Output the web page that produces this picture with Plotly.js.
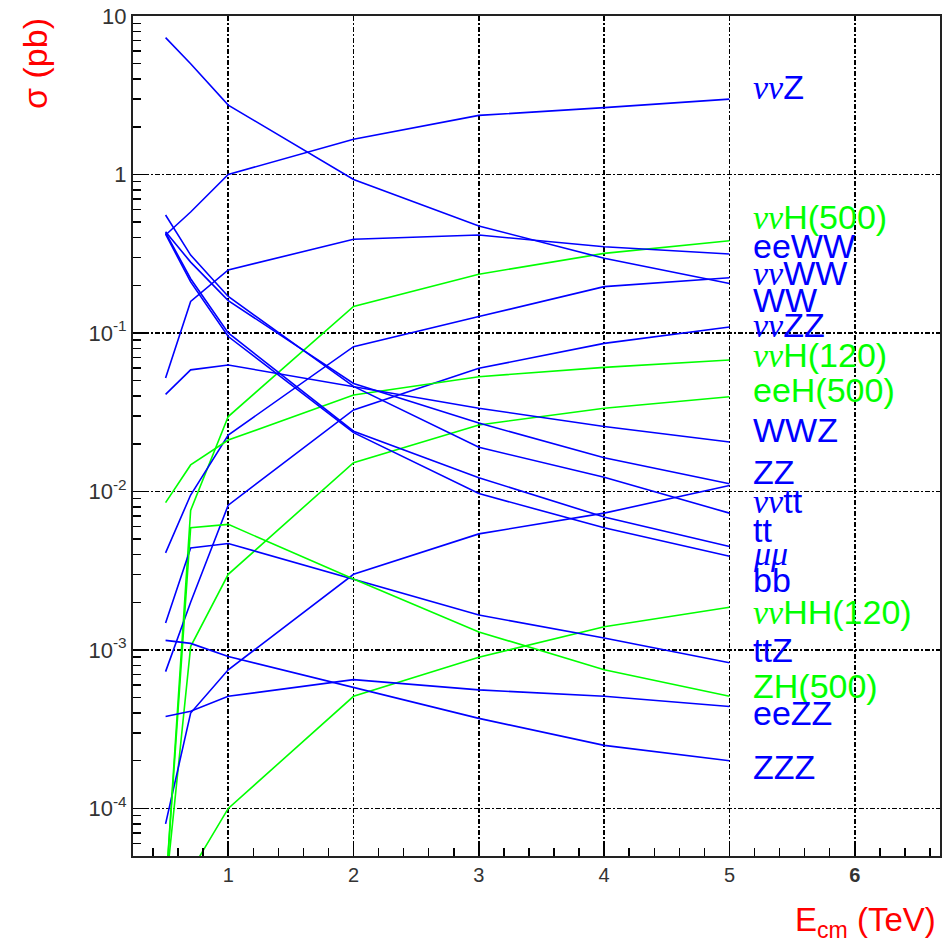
<!DOCTYPE html>
<html>
<head>
<meta charset="utf-8">
<script src="https://cdn.plot.ly/plotly-3.0.1.min.js"></script>
<style>html,body{margin:0;padding:0;background:#fff;}#chart{width:944px;height:950px;}</style>
</head>
<body>
<div id="chart"></div>
<script>
// centre-of-mass energies (TeV)
const energies = [0.5, 0.7, 1, 2, 3, 4, 5];

// cross sections (pb)
// blue processes
const sigNuNuZ   = [0.415, 0.58, 1.0, 1.67, 2.36, 2.64, 2.99];
const sigWW      = [7.3, 5.0, 2.74, 0.93, 0.473, 0.296, 0.205];
const sigEEWW    = [0.052, 0.158, 0.25, 0.39, 0.415, 0.35, 0.315];
const sigNuNuWW  = [0.0041, 0.0095, 0.0227, 0.082, 0.127, 0.196, 0.223];
const sigNuNuZZ  = [0.00073, 0.002, 0.0082, 0.0327, 0.0599, 0.086, 0.109];
const sigWWZ     = [0.041, 0.0585, 0.0628, 0.0458, 0.0335, 0.0257, 0.0205];
const sigZZ      = [0.435, 0.28, 0.16, 0.048, 0.027, 0.0163, 0.0112];
const sigNuNuTT  = [0.00008, 0.0004, 0.00075, 0.003, 0.0054, 0.0073, 0.0109];
const sigTT      = [0.555, 0.31, 0.17, 0.046, 0.019, 0.0123, 0.0073];
const sigMuMu    = [0.43, 0.22, 0.1, 0.024, 0.0122, 0.0069, 0.0045];
const sigBB      = [0.42, 0.21, 0.095, 0.0235, 0.0097, 0.0059, 0.0039];
const sigTTZ     = [0.00148, 0.0044, 0.0047, 0.0028, 0.00166, 0.00119, 0.00083];
const sigEEZZ    = [0.00038, 0.00041, 0.00051, 0.00065, 0.00056, 0.00051, 0.00044];
const sigZZZ     = [0.00115, 0.0011, 0.00091, 0.00058, 0.00037, 0.00025, 0.0002];
// green (Higgs) processes
const sigNuNuH500   = [0.00003, 0.0076, 0.0297, 0.147, 0.235, 0.318, 0.382];
const sigNuNuH120   = [0.0085, 0.0147, 0.0211, 0.0406, 0.053, 0.0607, 0.0676];
const sigEEH500     = [0.00003, 0.00105, 0.003, 0.0152, 0.0263, 0.0335, 0.0396];
const sigNuNuHH120  = [null, 0.00004, 0.0001, 0.00051, 0.0009, 0.0014, 0.00186];
const sigZH500      = [0.00003, 0.0059, 0.0062, 0.0028, 0.0013, 0.00075, 0.00051];

// process labels (νν and μμ drawn in italic Greek)
const NU = '<span style="font-family:Liberation Serif;font-style:italic">νν</span>';
const MU = '<span style="font-family:Liberation Serif;font-style:italic">μμ</span>';
const processLabels = [
  NU + 'Z', NU + 'H(500)', 'eeWW', NU + 'WW', 'WW', NU + 'ZZ', NU + 'H(120)', 'eeH(500)',
  'WWZ', 'ZZ', NU + 'tt', 'tt', MU, 'bb', NU + 'HH(120)', 'ttZ', 'ZH(500)', 'eeZZ', 'ZZZ'
];
const processSeries = [
  sigNuNuZ, sigNuNuH500, sigEEWW, sigNuNuWW, sigWW, sigNuNuZZ, sigNuNuH120, sigEEH500,
  sigWWZ, sigZZ, sigNuNuTT, sigTT, sigMuMu, sigBB, sigNuNuHH120, sigTTZ, sigZH500, sigEEZZ, sigZZZ
];
const isHiggs = [false, true, false, false, false, false, true, true,
  false, false, false, false, false, false, true, false, true, false, false];

// label vertical placement (log10 units), layout only
const labelLogY = [0.55, -0.27, -0.45, -0.62, -0.79, -0.95, -1.14, -1.36,
  -1.61, -1.88, -2.06, -2.24, -2.39, -2.56, -2.76, -3.0, -3.23, -3.40, -3.74];

const BLUE = '#0000ff', GREEN = '#00ff00';

const traces = processSeries.map((ys, i) => ({
  type: 'scatter', mode: 'lines', x: energies, y: ys,
  line: {color: isHiggs[i] ? GREEN : BLUE, width: 1.6},
  hoverinfo: 'skip', showlegend: false
}));

const annotations = processLabels.map((t, i) => ({
  xref: 'x', yref: 'y', x: 5.17, y: labelLogY[i], xanchor: 'left', yanchor: 'middle',
  text: t, showarrow: false,
  font: {family: 'Liberation Sans, Arial, sans-serif', size: 34, color: isHiggs[i] ? GREEN : BLUE}
}));

annotations.push({
  xref: 'paper', yref: 'paper', x: -0.1214, y: 0.943, xanchor: 'center', yanchor: 'middle',
  textangle: -90, showarrow: false, text: 'σ (pb)',
  font: {family: 'Liberation Sans, Arial, sans-serif', size: 34, color: '#ff0000'}
});
annotations.push({
  xref: 'paper', yref: 'paper', x: 0.997, y: -0.078, xanchor: 'right', yanchor: 'middle',
  showarrow: false, text: 'E<sub>cm</sub> (TeV)',
  font: {family: 'Liberation Sans, Arial, sans-serif', size: 33, color: '#ff0000'}
});

const gridStyle = {gridcolor: '#000', gridwidth: 1.5, griddash: '5px,2px,2px,2px'};

const layout = {
  width: 944, height: 950,
  margin: {l: 133, r: 4, t: 16, b: 94},
  paper_bgcolor: '#fff', plot_bgcolor: '#fff',
  showlegend: false,
  xaxis: Object.assign({
    range: [0.24, 6.68], showline: true, mirror: true, linecolor: '#222', linewidth: 2,
    zeroline: false, showgrid: true,
    tickvals: [1, 2, 3, 4, 5, 6], ticktext: ['1', '2', '3', '4', '5', '<b>6</b>'],
    ticks: 'inside', ticklen: 15, tickcolor: '#000', tickwidth: 1.5,
    tickfont: {family: 'Liberation Sans, Arial, sans-serif', size: 20, color: '#333'},
    minor: {dtick: 0.2, tick0: 0, ticks: 'inside', ticklen: 8, tickcolor: '#000', tickwidth: 1.5, showgrid: false}
  }, gridStyle),
  yaxis: Object.assign({
    type: 'log', range: [-4.30, 1], showline: true, mirror: true, linecolor: '#222', linewidth: 2,
    zeroline: false, showgrid: true,
    tickvals: [1e-4, 1e-3, 1e-2, 1e-1, 1, 10],
    ticktext: ['10<sup>-4</sup>', '10<sup>-3</sup>', '10<sup>-2</sup>', '10<sup>-1</sup>', '1', '10'],
    ticks: 'inside', ticklen: 12, tickcolor: '#000', tickwidth: 1.5,
    tickfont: {family: 'Liberation Sans, Arial, sans-serif', size: 22, color: '#333'},
    minor: {dtick: 'D1', ticks: 'inside', ticklen: 8, tickcolor: '#000', tickwidth: 1.5, showgrid: false}
  }, gridStyle),
  annotations: annotations
};

Plotly.newPlot('chart', traces, layout, {staticPlot: true, displayModeBar: false});
</script>
</body>
</html>
